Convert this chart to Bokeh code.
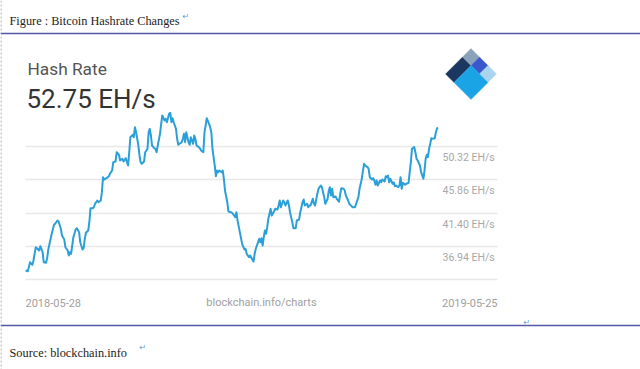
import pandas as pd
from bokeh.plotting import figure
from bokeh.models import (ColumnDataSource, Range1d, Grid, FixedTicker, Label,
                          PolyAnnotation, Span)
from bokeh.embed import file_html
from bokeh.resources import INLINE

# ---------------- data ----------------
start_date = "2018-05-28"
end_date = "2019-05-25"
days = [0, 2, 4, 6, 7, 9, 10, 12, 13, 15, 16, 18, 19, 20, 22, 23, 25, 26, 28, 29,
        31, 32, 34, 35, 37, 38, 39, 40, 41, 42, 44, 45, 47, 48, 50, 51, 52, 53, 55, 56,
        57, 59, 60, 61, 63, 64, 66, 67, 68, 69, 71, 73, 74, 76, 77, 79, 80, 82, 83, 85,
        86, 88, 89, 90, 91, 92, 94, 95, 96, 97, 99, 100, 101, 102, 104, 105, 107, 108, 109, 110,
        111, 113, 114, 115, 116, 118, 119, 120, 122, 123, 124, 126, 127, 128, 129, 130, 132, 133, 134, 135,
        137, 138, 139, 140, 141, 143, 144, 145, 147, 148, 149, 150, 152, 153, 154, 156, 157, 158, 159, 161,
        162, 163, 164, 166, 167, 168, 169, 170, 172, 173, 174, 175, 177, 178, 180, 181, 183, 184, 185, 186,
        188, 190, 192, 193, 194, 196, 197, 199, 200, 201, 202, 203, 205, 206, 207, 208, 209, 210, 211, 212,
        213, 215, 216, 218, 219, 221, 222, 223, 224, 226, 227, 228, 230, 231, 232, 234, 235, 237, 238, 240,
        241, 243, 244, 245, 247, 248, 249, 250, 252, 253, 254, 256, 257, 259, 260, 262, 263, 265, 266, 267,
        268, 269, 270, 272, 273, 275, 276, 277, 279, 280, 281, 283, 284, 286, 287, 289, 290, 292, 293, 295,
        296, 297, 298, 300, 301, 302, 304, 305, 306, 307, 308, 309, 311, 312, 313, 315, 316, 317, 318, 319,
        320, 322, 323, 324, 325, 327, 328, 329, 330, 331, 333, 334, 336, 337, 338, 339, 341, 342, 343, 344,
        346, 347, 349, 350, 351, 352, 353, 354, 355, 356, 357, 359, 360, 361, 362]
hashrate = [33.72, 33.63, 34.83, 34.48, 35.06, 36.83, 36.70, 36.39, 36.97, 36.17,
            34.83, 34.75, 35.36, 36.53, 37.95, 38.62, 39.82, 39.96, 40.40, 40.27,
            39.29, 38.40, 37.86, 36.83, 36.39, 35.73, 36.17, 35.95, 37.06, 38.17,
            39.20, 39.37, 38.84, 37.50, 36.53, 36.70, 37.95, 38.76, 39.06, 40.17,
            42.04, 42.04, 42.17, 42.63, 43.07, 42.84, 43.07, 44.18, 46.18, 45.87,
            46.05, 46.27, 46.63, 47.08, 48.18, 48.28, 49.52, 49.17, 48.41, 48.64,
            48.28, 48.72, 48.18, 47.74, 49.52, 51.52, 51.84, 51.52, 52.86, 52.19,
            50.41, 49.08, 48.18, 47.97, 48.28, 49.52, 49.97, 52.19, 52.64, 51.75,
            50.41, 50.05, 49.97, 49.52, 50.41, 51.98, 53.31, 54.42, 53.75, 53.98,
            53.52, 54.65, 54.78, 53.52, 54.06, 53.52, 52.64, 51.31, 50.51, 50.64,
            50.85, 51.31, 51.98, 50.85, 52.19, 50.85, 50.51, 51.52, 50.64, 51.75,
            51.31, 50.41, 50.19, 50.05, 49.75, 49.52, 52.19, 53.08, 54.06, 53.31,
            52.86, 52.19, 49.97, 47.74, 46.31, 47.08, 46.85, 47.08, 46.85, 47.08,
            45.97, 44.40, 42.84, 41.60, 41.51, 41.45, 41.07, 40.84, 41.51, 40.40,
            38.84, 37.29, 36.53, 36.62, 35.95, 35.50, 35.73, 35.19, 34.92, 35.95,
            36.62, 37.06, 37.95, 37.50, 38.04, 37.06, 38.17, 39.06, 38.62, 39.50,
            40.63, 41.96, 41.07, 41.60, 41.96, 41.87, 42.40, 43.07, 42.17, 43.07,
            42.84, 42.40, 43.07, 42.50, 41.51, 40.17, 39.37, 39.37, 40.40, 40.53,
            41.51, 42.84, 43.20, 42.40, 42.63, 42.17, 42.40, 42.40, 43.30, 42.63,
            42.40, 43.96, 44.63, 45.07, 44.85, 43.51, 42.63, 43.30, 44.40, 44.85,
            43.74, 44.63, 43.51, 43.60, 43.30, 42.90, 43.90, 44.71, 44.63, 44.40,
            43.74, 43.07, 42.63, 42.31, 42.17, 42.17, 42.63, 43.51, 44.63, 45.97,
            47.08, 47.97, 47.74, 47.52, 47.30, 46.18, 45.87, 46.05, 45.74, 45.17,
            45.74, 45.07, 45.74, 45.51, 45.87, 45.61, 46.31, 46.18, 46.41, 45.51,
            45.97, 45.30, 45.51, 44.98, 45.07, 44.85, 45.07, 46.18, 44.63, 45.43,
            45.17, 45.30, 45.43, 46.85, 48.18, 49.97, 50.19, 49.52, 48.64, 48.41,
            47.74, 46.85, 45.97, 47.08, 48.64, 49.17, 48.85, 49.97, 50.64, 51.39,
            51.31, 51.39, 52.19, 52.72, 52.75]
grid_values = [32.48, 36.94, 41.40, 45.86, 50.32]
tick_labels = ["36.94 EH/s", "41.40 EH/s", "45.86 EH/s", "50.32 EH/s"]
tick_values = [36.94, 41.40, 45.86, 50.32]
current_rate = "52.75 EH/s"

# ---------------- layout (canvas pixels, measured from the top) ----------------
W, H = 640, 369
X_FIRST_PX, X_LAST_PX = 25.0, 437.7       # first / last data date
X_GRID_END_PX = 497.0                     # end of grid lines
Y_HI_PX, Y_LO_PX = 145.7, 279.3           # 50.32 and 32.48 grid lines


def sy(y_top):
    return H - y_top


dates = pd.Timestamp(start_date) + pd.to_timedelta(days, unit="D")
src = ColumnDataSource(dict(date=dates, hashrate=hashrate))

d0 = pd.Timestamp(start_date).value / 1e6
d1 = pd.Timestamp(end_date).value / 1e6
ms_px = (d1 - d0) / (X_LAST_PX - X_FIRST_PX)
x_start = d0 - X_FIRST_PX * ms_px
x_end = d0 + (W - X_FIRST_PX) * ms_px
grid_end = d0 + (X_GRID_END_PX - X_FIRST_PX) * ms_px

v_hi, v_lo = grid_values[-1], grid_values[0]
v_px = (v_hi - v_lo) / (Y_LO_PX - Y_HI_PX)
y_end = v_hi + Y_HI_PX * v_px
y_start = v_hi - (H - Y_HI_PX) * v_px

p = figure(width=W, height=H, output_backend="svg", toolbar_location=None,
           x_axis_type="datetime", x_axis_location=None, y_axis_location=None,
           x_range=Range1d(x_start, x_end), y_range=Range1d(y_start, y_end),
           min_border=0, outline_line_color=None, background_fill_color="white",
           border_fill_color="white")
p.grid.visible = False

grid = Grid(dimension=1, ticker=FixedTicker(ticks=grid_values),
            grid_line_color="#e8e8e8", grid_line_width=1.5)
try:
    grid.cross_bounds = (d0, grid_end)
    p.add_layout(grid)
except Exception:
    p.segment(x0=[d0] * len(grid_values), x1=[grid_end] * len(grid_values),
              y0=grid_values, y1=grid_values, line_color="#e8e8e8", line_width=1.5)

p.line(x="date", y="hashrate", source=src, line_color="#2a9fd8", line_width=2,
       line_join="round")

# y tick labels under each grid line
for v, t in zip(tick_values, tick_labels):
    p.add_layout(Label(x=442, x_units="screen", y=v, y_units="data", y_offset=-4.5,
                       text=t, text_baseline="top", text_align="left",
                       text_font="Roboto", text_font_size="10.5px",
                       text_color="#a8a8a8"))

# x labels
for x, t, al in [(25, start_date, "left"), (261, "blockchain.info/charts", "center"),
                 (497, end_date, "right")]:
    p.add_layout(Label(x=x, x_units="screen", y=sy(302), y_units="screen",
                       text=t, text_align=al, text_baseline="alphabetic",
                       text_font="Roboto", text_font_size="11px", text_color="#a0a0a0"))

# chart headings
p.add_layout(Label(x=27, x_units="screen", y=sy(68.3), y_units="screen", text="Hash Rate",
                   text_font="Roboto", text_font_size="17.3px", text_color="#555555",
                   text_baseline="alphabetic"))
p.add_layout(Label(x=26, x_units="screen", y=sy(98.3), y_units="screen", text=current_rate,
                   text_font="Roboto", text_font_size="26px", text_color="#333333",
                   text_baseline="alphabetic"))

# logo (diamond of 3x3 cells)
xL, yL, k = 445.0, 73.5, 8.5
pieces = [((0, 2), (0, 1), "#1b365f"), ((2, 3), (0, 1), "#8aa2ba"),
          ((2, 3), (1, 2), "#3b57cc"), ((2, 3), (2, 3), "#a9d4ee"),
          ((0, 2), (1, 3), "#1aa4e6")]
for (u0, u1), (v0, v1), c in pieces:
    corners = [(u0, v0), (u1, v0), (u1, v1), (u0, v1)]
    xs = [xL + (u + v) * k for u, v in corners]
    ys = [sy(yL - u * k + v * k) for u, v in corners]
    p.add_layout(PolyAnnotation(xs=xs, ys=ys, xs_units="screen", ys_units="screen",
                                fill_color=c, fill_alpha=1, line_color=c, line_width=1,
                                line_join="round"))

# document frame
for y in (33, 325):
    p.add_layout(Span(location=sy(y), location_units="screen", dimension="width",
                      line_color="#5357a8", line_width=1.3))
p.add_layout(Span(location=0.5, location_units="screen", dimension="height",
                  line_color="#9a9a9a", line_width=1, line_dash="2 2"))
p.add_layout(Label(x=9, x_units="screen", y=sy(20.5), y_units="screen",
                   text="Figure : Bitcoin Hashrate Changes", text_font="Liberation Serif",
                   text_font_size="12.3px", text_color="#222222", text_baseline="alphabetic"))
p.add_layout(Label(x=9, x_units="screen", y=sy(352), y_units="screen",
                   text="Source: blockchain.info", text_font="Liberation Serif",
                   text_font_size="12.3px", text_color="#222222", text_baseline="alphabetic"))
for x, y in [(182, 16), (523, 322), (139, 347)]:
    p.add_layout(Label(x=x, x_units="screen", y=sy(y), y_units="screen", text="\u21b5",
                       text_font="DejaVu Sans", text_font_size="8px", text_color="#5b9bd5",
                       text_baseline="alphabetic"))

open("out.html", "w").write(file_html(p, INLINE))
